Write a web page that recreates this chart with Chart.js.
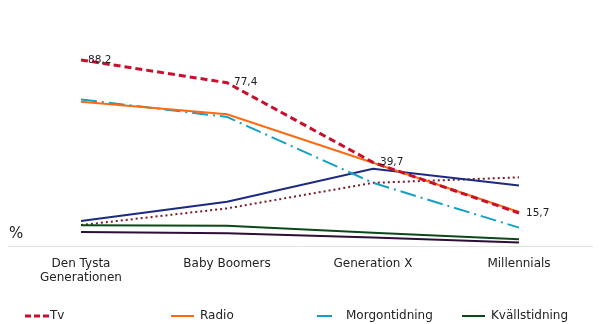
<!DOCTYPE html>
<html>
<head>
<meta charset="utf-8">
<script src="https://cdn.jsdelivr.net/npm/chart.js@4"></script>
<style>
  html, body { margin: 0; padding: 0; background: #fff; }
  #wrap { width: 600px; height: 324px; position: relative; }
</style>
</head>
<body>
<div id="wrap"><canvas id="mediaChart" width="600" height="324"></canvas></div>
<script>
// categories + series (percent)
const categories = [["Den Tysta", "Generationen"], "Baby Boomers", "Generation X", "Millennials"];
const tv = [88.2, 77.4, 39.7, 15.7];
const radio = [68.4, 62.5, 39.5, 16.2];
const morgontidning = [69.5, 61.2, 30.0, 8.8];
const kvallstidning = [9.9, 9.7, 6.4, 3.3];
// series without a visible legend entry
const serie5 = [11.9, 21.0, 36.7, 28.7];
const serie6 = [10.0, 17.9, 30.0, 32.6];
const serie7 = [6.7, 6.1, 4.1, 1.7];

const FONT = "DejaVu Sans";

/* ---------- PLUGINS ---------- */

// value labels on the Tv line
const tvLabels = {
  id: "tvLabels",
  afterDatasetsDraw(chart) {
    const ctx = chart.ctx;
    const meta = chart.getDatasetMeta(0);
    ctx.save();
    ctx.font = "10.5px '" + FONT + "'";
    ctx.fillStyle = "#222";
    ctx.textAlign = "left";
    ctx.textBaseline = "middle";
    meta.data.forEach((pt, i) => {
      ctx.fillText(tv[i].toFixed(1).replace(".", ","), pt.x + 7, pt.y);
    });
    ctx.restore();
  }
};

// "%" marker + custom legend row (only the first four series)
const extras = {
  id: "extras",
  afterDraw(chart) {
    const ctx = chart.ctx;
    ctx.save();
    ctx.font = "15px '" + FONT + "'";
    ctx.fillStyle = "#222";
    ctx.textBaseline = "middle";
    ctx.fillText("%", 9, 234);

    // [line start, line end, text x]
    const slots = [[25, 49, 50], [171, 194, 200], [317, 332, 346], [462, 485, 491]];
    const y = 316;
    ctx.font = "12px '" + FONT + "'";
    for (let i = 0; i < 4; i++) {
      const ds = chart.data.datasets[i];
      const s = slots[i];
      ctx.beginPath();
      ctx.strokeStyle = ds.borderColor;
      ctx.lineWidth = ds.borderWidth;
      ctx.setLineDash(i === 0 ? [6, 3] : []);
      ctx.moveTo(s[0], y);
      ctx.lineTo(s[1], y);
      ctx.stroke();
      ctx.setLineDash([]);
      ctx.fillStyle = "#222";
      ctx.fillText(ds.label, s[2], y);
    }
    ctx.restore();
  }
};

/* ---------- CHART ---------- */

function line(label, data, color, width, dash) {
  return {
    label: label,
    data: data,
    borderColor: color,
    backgroundColor: color,
    borderWidth: width,
    borderDash: dash,
    pointRadius: 0,
    tension: 0,
    fill: false
  };
}

const ctx = document.getElementById("mediaChart").getContext("2d");

new Chart(ctx, {
  type: "line",
  data: {
    labels: categories,
    datasets: [
      line("Tv", tv, "#C8102E", 3, [7, 4]),
      line("Radio", radio, "#FF6A0E", 2, []),
      line("Morgontidning", morgontidning, "#14A0C6", 2, [16, 5, 2, 5]),
      line("Kvällstidning", kvallstidning, "#0B4A16", 2, []),
      line("Serie 5", serie5, "#1C2A80", 2, []),
      line("Serie 6", serie6, "#7A1A2C", 2, [2, 3]),
      line("Serie 7", serie7, "#2E0E36", 2, [])
    ]
  },
  options: {
    responsive: false,
    animation: false,
    layout: { padding: { left: 8, right: 8, top: 35, bottom: 29 } },
    plugins: {
      legend: { display: false },
      tooltip: { enabled: false }
    },
    scales: {
      x: {
        offset: true,
        grid: { display: false, drawTicks: false },
        border: { display: true, color: "#E2E2E2", width: 1 },
        ticks: {
          color: "#222",
          padding: 10,
          maxRotation: 0,
          font: { family: FONT, size: 12 }
        }
      },
      y: {
        display: false,
        min: 0,
        max: 100
      }
    }
  },
  plugins: [tvLabels, extras]
});
</script>
</body>
</html>
